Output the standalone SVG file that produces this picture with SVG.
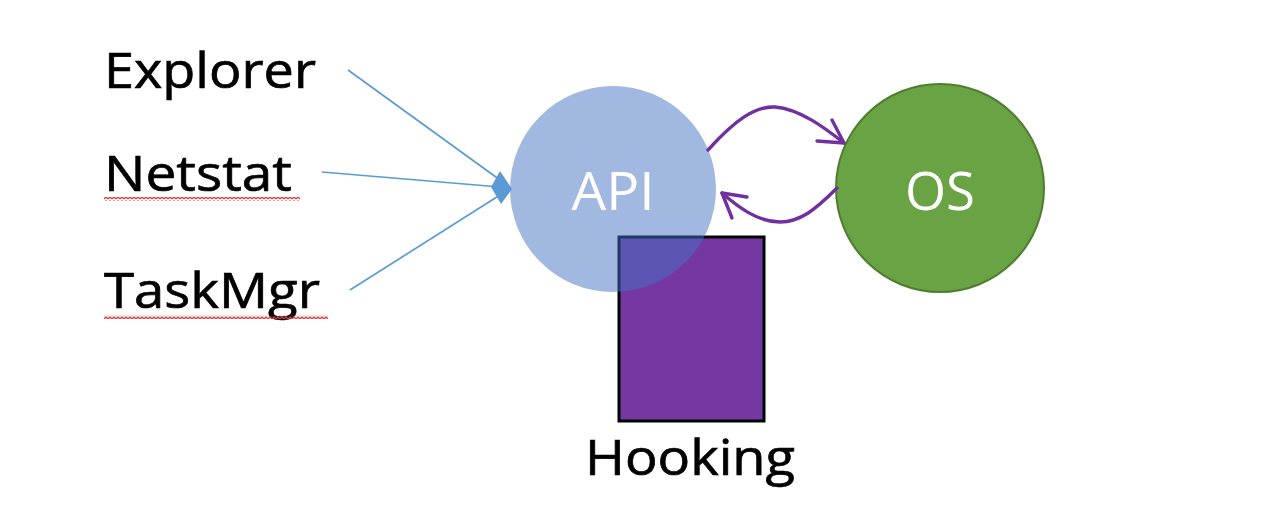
<svg xmlns="http://www.w3.org/2000/svg" width="1263" height="515" viewBox="0 0 1263 515">
<defs>
<style>
.lbl{font-family:"Open Sans","Liberation Sans",sans-serif;fill:#000;stroke:#000;stroke-width:0.7;}
.wlbl{font-family:"Open Sans","Liberation Sans",sans-serif;fill:#fff;text-anchor:middle;}
.blue{stroke:#5b9bd5;stroke-width:1.7;fill:none;}
.purp{stroke:#7030a0;stroke-width:3.4;fill:none;stroke-linecap:round;stroke-linejoin:round;}
</style>
<pattern id="squiggle" x="0" y="0" width="4" height="4" patternUnits="userSpaceOnUse">
<path d="M0,3 L2,1 L4,3" fill="none" stroke="#e03a3a" stroke-width="1.3"/>
</pattern>
</defs>
<rect width="1263" height="515" fill="#fff"/>

<g id="explorer">
<text class="lbl" x="104" y="88" font-size="50" textLength="212" lengthAdjust="spacingAndGlyphs">Explorer</text>
</g>
<g id="netstat">
<text class="lbl" x="104" y="191" font-size="50" textLength="188" lengthAdjust="spacingAndGlyphs">Netstat</text>
<rect x="104" y="197" width="196" height="4" fill="url(#squiggle)"/>
</g>
<g id="taskmgr">
<text class="lbl" x="104" y="308" font-size="50" textLength="216" lengthAdjust="spacingAndGlyphs">TaskMgr</text>
<rect x="104" y="315" width="224" height="4" fill="url(#squiggle)"/>
</g>

<g id="hooking">
<rect x="619" y="237" width="145" height="184" fill="#7538a3" stroke="#000" stroke-width="3"/>
<text class="lbl" x="585" y="475" font-size="50" textLength="210" lengthAdjust="spacingAndGlyphs">Hooking</text>
</g>

<g id="api">
<circle cx="613" cy="189" r="103" fill="#4472c4" fill-opacity="0.5"/>
<text class="wlbl" x="613" y="210" font-size="53" textLength="83" lengthAdjust="spacingAndGlyphs">API</text>
</g>

<g id="os">
<circle cx="940" cy="188" r="104" fill="#6aa343" stroke="#4f7d30" stroke-width="2"/>
<text class="wlbl" x="940" y="210" font-size="53" textLength="70" lengthAdjust="spacingAndGlyphs">OS</text>
</g>

<g id="connectors">
<line class="blue" x1="348" y1="70" x2="500" y2="180"/>
<line class="blue" x1="322" y1="172" x2="500" y2="187"/>
<line class="blue" x1="350" y1="290" x2="500" y2="195"/>
<polygon points="491,187 500,171 512,189 501,204" fill="#5b9bd5"/>
<path class="purp" d="M708,150 C735,120 755,106 775,107 C800,109 825,128 844,143"/>
<path class="purp" d="M832,120 L844,143 L817,141"/>
<path class="purp" d="M837,188 C815,210 800,222 780,222 C757,222 737,206 722,193"/>
<path class="purp" d="M747,197 L722,193 L732,218"/>
</g>
</svg>
